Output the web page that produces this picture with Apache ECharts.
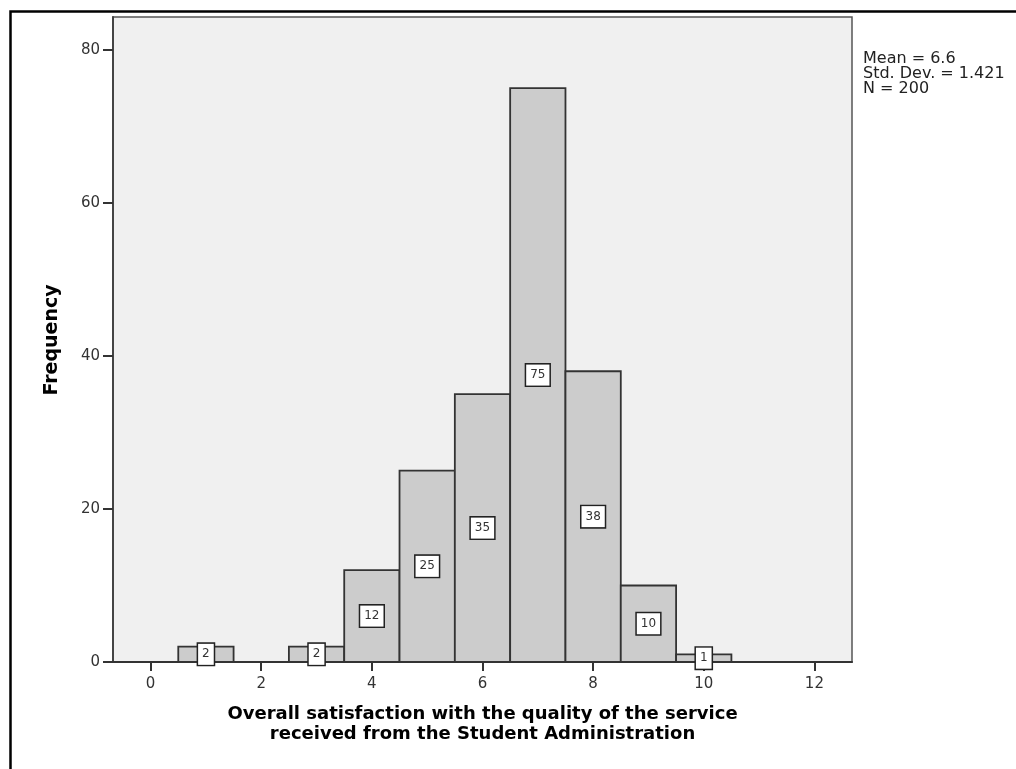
<!DOCTYPE html>
<html>
<head>
<meta charset="utf-8">
<script src="https://cdn.jsdelivr.net/npm/echarts@6/dist/echarts.min.js"></script>
<style>html,body{margin:0;padding:0;background:#fff;}#c{width:1016px;height:769px;}</style>
</head>
<body>
<div id="c"></div>
<script>
// Histogram data: bin centres (score) and frequencies
const binCenters = [1, 3, 4, 5, 6, 7, 8, 9, 10];
const frequencies = [2, 2, 12, 25, 35, 75, 38, 10, 1];
const xTicks = [0, 2, 4, 6, 8, 10, 12];
const yTicks = [0, 20, 40, 60, 80];
const statsLines = ['Mean = 6.6', 'Std. Dev. = 1.421', 'N = 200'];
const xTitle = ['Overall satisfaction with the quality of the service', 'received from the Student Administration'];
const yTitle = 'Frequency';
const binWidth = 1;

const chart = echarts.init(document.getElementById('c'), null, {renderer: 'canvas'});
const FONT = '"DejaVu Sans", sans-serif';

const option = {
  animation: false,
  backgroundColor: '#ffffff',
  grid: {
    left: 113, right: 164, top: 17, bottom: 107,
    show: true, backgroundColor: '#f0f0f0', borderColor: '#555', borderWidth: 1.5
  },
  xAxis: {
    type: 'value', min: -0.68, max: 12.68,
    axisLine: {show: true, onZero: false, lineStyle: {color: '#333', width: 2}},
    axisTick: {show: true, length: 9, customValues: xTicks, lineStyle: {color: '#333', width: 2}},
    axisLabel: {customValues: xTicks, color: '#333', fontSize: 15, fontFamily: FONT, margin: 15},
    splitLine: {show: false}
  },
  yAxis: {
    type: 'value', min: 0, max: 84.3,
    axisLine: {show: true, onZero: false, lineStyle: {color: '#444', width: 2}},
    axisTick: {show: true, length: 10, customValues: yTicks, lineStyle: {color: '#333', width: 2}},
    axisLabel: {customValues: yTicks, color: '#333', fontSize: 15, fontFamily: FONT, margin: 13},
    splitLine: {show: false}
  },
  series: [{
    type: 'custom',
    z: 10,
    data: binCenters.map((c, i) => [c, frequencies[i]]),
    renderItem: function (params, api) {
      const x = api.value(0), f = api.value(1);
      const p0 = api.coord([x - binWidth / 2, f]);
      const p1 = api.coord([x + binWidth / 2, 0]);
      return {
        type: 'group',
        children: [
          {
            type: 'rect',
            shape: {x: p0[0], y: p0[1], width: p1[0] - p0[0], height: p1[1] - p0[1]},
            style: {fill: '#cccccc', stroke: '#333', lineWidth: 1.8}
          },
          {
            type: 'text',
            z2: 20,
            x: (p0[0] + p1[0]) / 2,
            y: (p0[1] + p1[1]) / 2,
            style: {
              text: String(f), align: 'center', verticalAlign: 'middle',
              fill: '#333', fontSize: 12, fontFamily: FONT,
              backgroundColor: '#fff', borderColor: '#222', borderWidth: 1.5,
              padding: [5, 4, 4, 4]
            }
          }
        ]
      };
    }
  }],
  graphic: [
    {type: 'rect', left: 8, top: 9, z: 100, silent: true,
     shape: {x: 0, y: 0, width: 1100, height: 900},
     style: {fill: 'none', stroke: '#000', lineWidth: 2.5}},
    {type: 'text', x: 52, y: 340, rotation: Math.PI / 2, z: 100,
     style: {text: yTitle, fontSize: 19, fontWeight: 'bold', fontFamily: FONT, fill: '#000', align: 'center', verticalAlign: 'middle'}},
    {type: 'text', x: 482.5, y: 724, z: 100,
     style: {text: xTitle.join('\n'), fontSize: 18, lineHeight: 20, fontWeight: 'bold', fontFamily: FONT, fill: '#000', align: 'center', verticalAlign: 'middle'}},
    {type: 'text', x: 863, y: 51, z: 100,
     style: {text: statsLines.join('\n'), fontSize: 16, lineHeight: 15, fontFamily: FONT, fill: '#222', align: 'left', verticalAlign: 'top'}}
  ]
};
chart.setOption(option);
</script>
</body>
</html>
